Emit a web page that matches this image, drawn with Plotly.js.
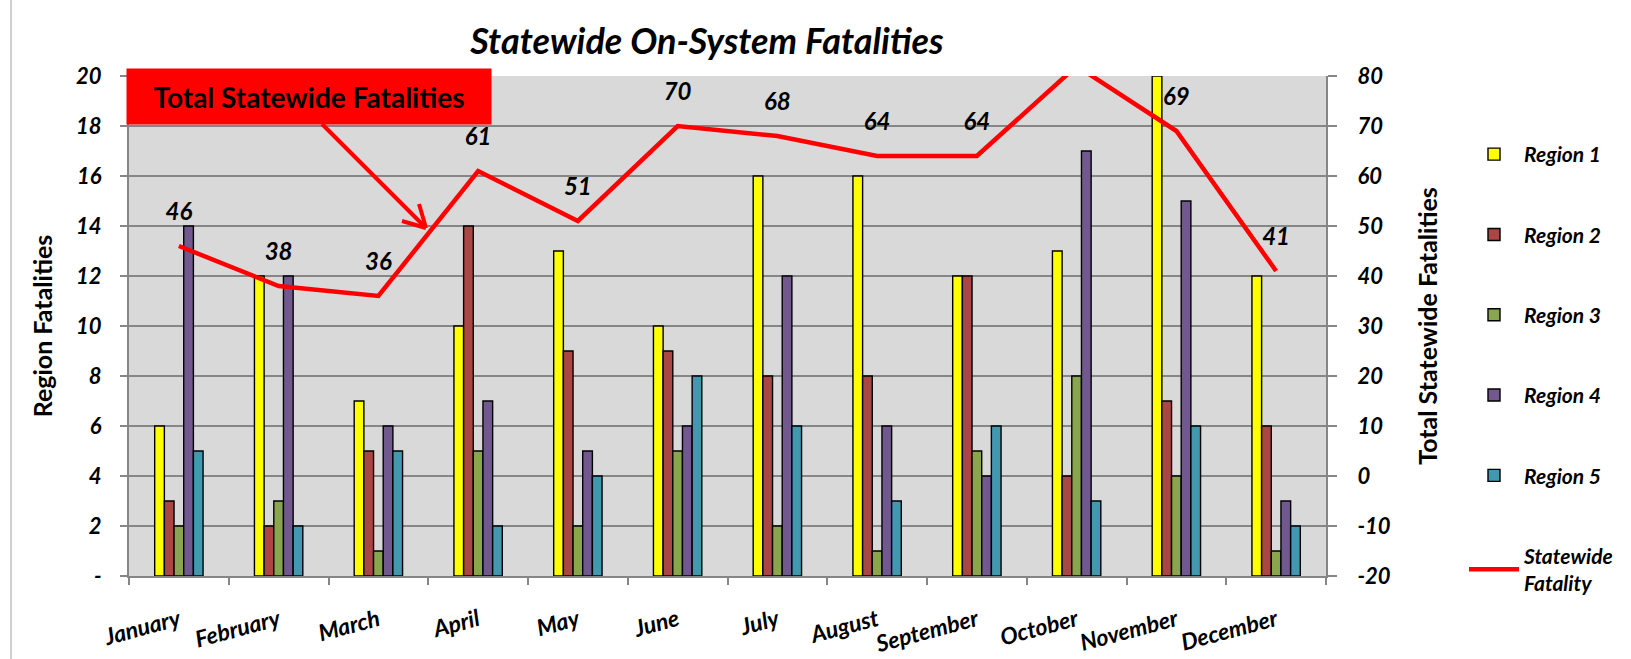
<!DOCTYPE html>
<html>
<head>
<meta charset="utf-8">
<script src="https://cdn.plot.ly/plotly-3.0.1.min.js"></script>
<style>
  html, body { margin: 0; padding: 0; background: #ffffff; }
  #chart { width: 1631px; height: 659px; }
</style>
</head>
<body>
<div id="chart"></div>
<script>
// ---- Data ----
const months = ["January", "February", "March", "April", "May", "June",
                "July", "August", "September", "October", "November", "December"];
const region1 = [6, 12, 7, 10, 13, 10, 16, 16, 12, 13, 20, 12];
const region2 = [3, 2, 5, 14, 9, 9, 8, 8, 12, 4, 7, 6];
const region3 = [2, 3, 1, 5, 2, 5, 2, 1, 5, 8, 4, 1];
const region4 = [14, 12, 6, 7, 5, 6, 12, 6, 4, 17, 15, 3];
const region5 = [5, 2, 5, 2, 4, 8, 6, 3, 6, 3, 6, 2];
const statewide = [46, 38, 36, 61, 51, 70, 68, 64, 64, 82, 69, 41];
const statewideLabels = ["46", "38", "36", "61", "51", "70", "68", "64", "64", "82", "69", "41"];
const seriesNames = ["Region 1", "Region 2", "Region 3", "Region 4", "Region 5"];
const seriesColors = ["#FFFF00", "#AA4643", "#89A54E", "#71588F", "#4198AF"];
const leftTickVals = [0, 2, 4, 6, 8, 10, 12, 14, 16, 18, 20];
const leftTickText = ["-", "2", "4", "6", "8", "10", "12", "14", "16", "18", "20"];
const rightTickVals = [-20, -10, 0, 10, 20, 30, 40, 50, 60, 70, 80];
const rightTickText = ["-20", "-10", "0", "10", "20", "30", "40", "50", "60", "70", "80"];

const FONT = "Lato, 'Open Sans', 'DejaVu Sans', sans-serif";
const regions = [region1, region2, region3, region4, region5];

const traces = regions.map((vals, i) => ({
  type: "bar",
  name: seriesNames[i],
  x: months,
  y: vals,
  marker: { color: seriesColors[i], line: { color: "#000000", width: 1.4 } },
  legendgroup: "g" + i,
  hoverinfo: "x+y+name"
}));

traces.push({
  type: "scatter",
  mode: "lines+markers+text",
  name: "Statewide<br>Fatality",
  x: months,
  y: statewide,
  yaxis: "y2",
  line: { color: "#FF0000", width: 4.5 },
  marker: { size: 30, color: "rgba(255,0,0,0)", opacity: 0 },
  text: statewideLabels,
  textposition: "top center",
  textfont: { family: FONT, size: 24, color: "#000000", weight: 700, style: "italic" },
  cliponaxis: true,
  legendgroup: "g5"
});

// plot area in pixels
const L = 129, R = 305, T = 76, B = 83;
const W = 1631 - L - R, H = 659 - T - B;
const px = x => (x - L) / W;
const py = y => (659 - B - y) / H;

const tickFont = { family: FONT, size: 22, color: "#000000", weight: 700, style: "italic" };
const arrowLine = { color: "#FF0000", width: 4 };

const layout = {
  width: 1631,
  height: 659,
  margin: { l: L, r: R, t: T, b: B, pad: 0 },
  paper_bgcolor: "#ffffff",
  plot_bgcolor: "#D9D9D9",
  barmode: "group",
  bargap: 0.515,
  bargroupgap: 0,
  showlegend: true,
  title: {
    text: "Statewide On-System Fatalities",
    font: { family: FONT, size: 36, color: "#000000", weight: 700, style: "italic" },
    x: px(707), xref: "paper", xanchor: "center",
    y: 1 - 41 / 659, yref: "container", yanchor: "middle"
  },
  xaxis: {
    type: "category",
    range: [-0.5, 11.5],
    autorange: false,
    tickangle: -15,
    tickson: "boundaries",
    ticks: "outside",
    ticklen: 7,
    tickcolor: "#868686",
    tickwidth: 2,
    showline: true,
    linecolor: "#868686",
    linewidth: 2,
    showgrid: false,
    ticklabelstandoff: 20,
    tickfont: { family: FONT, size: 23, color: "#000000", weight: 700, style: "italic" }
  },
  yaxis: {
    range: [0, 20],
    autorange: false,
    tickvals: leftTickVals,
    ticktext: leftTickText,
    ticks: "outside",
    ticklen: 7,
    tickcolor: "#868686",
    tickwidth: 2,
    showline: true,
    linecolor: "#868686",
    linewidth: 2,
    showgrid: true,
    gridcolor: "#868686",
    gridwidth: 2,
    zeroline: false,
    ticklabelstandoff: 14,
    tickfont: tickFont,
    title: {
      text: "Region Fatalities",
      font: { family: FONT, size: 25, color: "#000000", weight: 700 },
      standoff: 16
    }
  },
  yaxis2: {
    overlaying: "y",
    side: "right",
    range: [-20, 80],
    autorange: false,
    tickvals: rightTickVals,
    ticktext: rightTickText,
    ticks: "outside",
    ticklen: 9,
    tickcolor: "#868686",
    tickwidth: 2,
    showline: true,
    linecolor: "#868686",
    linewidth: 2,
    showgrid: false,
    zeroline: false,
    ticklabelstandoff: 16,
    tickfont: tickFont,
    title: {
      text: "Total Statewide Fatalities",
      font: { family: FONT, size: 25, color: "#000000", weight: 700 },
      standoff: 30
    }
  },
  legend: {
    x: px(1464), xanchor: "left",
    y: py(134), yanchor: "top",
    traceorder: "grouped",
    tracegroupgap: 50,
    bgcolor: "rgba(0,0,0,0)",
    font: { family: FONT, size: 21, color: "#000000", weight: 700, style: "italic" },
    itemwidth: 50
  },
  shapes: [
    { type: "line", xref: "paper", yref: "paper",
      x0: px(11), x1: px(11), y0: py(659), y1: py(0),
      line: { color: "#D0D0D0", width: 2 } },
    // callout arrow
    { type: "line", xref: "paper", yref: "paper",
      x0: px(322), y0: py(124), x1: px(425), y1: py(227), line: arrowLine },
    { type: "line", xref: "paper", yref: "paper",
      x0: px(402), y0: py(221), x1: px(426), y1: py(228), line: arrowLine },
    { type: "line", xref: "paper", yref: "paper",
      x0: px(419), y0: py(204), x1: px(426), y1: py(228), line: arrowLine }
  ],
  annotations: [
    {
      xref: "paper", yref: "paper",
      x: px(309), y: py(96.5), xanchor: "center", yanchor: "middle",
      text: "Total Statewide Fatalities",
      showarrow: false,
      bgcolor: "#FF0000",
      width: 364, height: 55, borderpad: 0,
      font: { family: FONT, size: 28, color: "#000000", weight: 700 }
    }
  ]
};

Plotly.newPlot("chart", traces, layout, { displayModeBar: false, staticPlot: true });
</script>
</body>
</html>
